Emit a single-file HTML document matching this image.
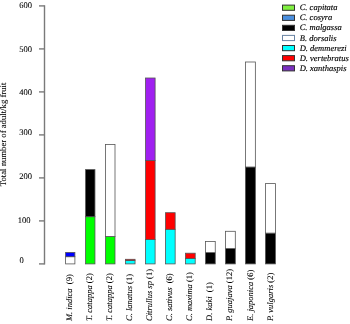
<!DOCTYPE html>
<html><head><meta charset="utf-8"><style>
html,body{margin:0;padding:0;background:#fff;}
svg{display:block;will-change:transform;}
.t{text-rendering:geometricPrecision;font-family:"Liberation Serif",serif;font-size:8.5px;fill:#000;stroke:#000;stroke-width:0.08px;}
.lg{stroke-width:0.15px;}
</style></head><body>
<svg width="350" height="324" viewBox="0 0 350 324">
<line x1="44.5" y1="5.20" x2="44.5" y2="264.59999999999997" stroke="#7a7a7a" stroke-width="1.4"/>
<line x1="39" y1="263.90" x2="44.5" y2="263.90" stroke="#7a7a7a" stroke-width="1.4"/>
<text x="21.7" y="263.38" text-anchor="middle" class="t">0</text>
<line x1="39" y1="220.90" x2="44.5" y2="220.90" stroke="#7a7a7a" stroke-width="1.4"/>
<text x="24.05" y="222.73" text-anchor="middle" class="t">100</text>
<line x1="39" y1="177.90" x2="44.5" y2="177.90" stroke="#7a7a7a" stroke-width="1.4"/>
<text x="25.5" y="178.93" text-anchor="middle" class="t">200</text>
<line x1="39" y1="134.90" x2="44.5" y2="134.90" stroke="#7a7a7a" stroke-width="1.4"/>
<text x="25.5" y="135.33" text-anchor="middle" class="t">300</text>
<line x1="39" y1="91.90" x2="44.5" y2="91.90" stroke="#7a7a7a" stroke-width="1.4"/>
<text x="25.5" y="94.63" text-anchor="middle" class="t">400</text>
<line x1="39" y1="48.90" x2="44.5" y2="48.90" stroke="#7a7a7a" stroke-width="1.4"/>
<text x="25.65" y="51.53" text-anchor="middle" class="t">500</text>
<line x1="39" y1="5.90" x2="44.5" y2="5.90" stroke="#7a7a7a" stroke-width="1.4"/>
<text x="25.5" y="7.63" text-anchor="middle" class="t">600</text>
<text transform="translate(6.3,134.45) rotate(-90)" text-anchor="middle" class="t" style="font-size:8.7px">Total number of adult/kg fruit</text>
<rect x="65.60" y="256.70" width="9.30" height="7.20" fill="#ffffff" stroke="#555" stroke-width="0.8"/>
<rect x="65.60" y="252.40" width="9.30" height="4.30" fill="#0000ff" stroke="#555" stroke-width="0.8"/>
<rect x="85.58" y="216.70" width="9.37" height="47.20" fill="#00ff00" stroke="#555" stroke-width="0.8"/>
<rect x="85.58" y="169.60" width="9.37" height="47.10" fill="#000000" stroke="#555" stroke-width="0.8"/>
<rect x="105.56" y="236.40" width="9.44" height="27.50" fill="#00ff00" stroke="#555" stroke-width="0.8"/>
<rect x="105.56" y="144.50" width="9.44" height="91.90" fill="#ffffff" stroke="#555" stroke-width="0.8"/>
<rect x="125.54" y="260.60" width="9.51" height="3.30" fill="#00ffff" stroke="#555" stroke-width="0.8"/>
<rect x="125.54" y="259.30" width="9.51" height="1.30" fill="#ff0000" stroke="#555" stroke-width="0.8"/>
<rect x="145.52" y="239.60" width="9.58" height="24.30" fill="#00ffff" stroke="#555" stroke-width="0.8"/>
<rect x="145.52" y="160.50" width="9.58" height="79.10" fill="#ff0000" stroke="#555" stroke-width="0.8"/>
<rect x="145.52" y="78.00" width="9.58" height="82.50" fill="#a020f0" stroke="#555" stroke-width="0.8"/>
<rect x="165.50" y="229.30" width="9.65" height="34.60" fill="#00ffff" stroke="#555" stroke-width="0.8"/>
<rect x="165.50" y="212.70" width="9.65" height="16.60" fill="#ff0000" stroke="#555" stroke-width="0.8"/>
<rect x="185.48" y="258.60" width="9.72" height="5.30" fill="#00ffff" stroke="#555" stroke-width="0.8"/>
<rect x="185.48" y="253.20" width="9.72" height="5.40" fill="#ff0000" stroke="#555" stroke-width="0.8"/>
<rect x="205.46" y="252.60" width="9.79" height="11.30" fill="#000000" stroke="#555" stroke-width="0.8"/>
<rect x="205.46" y="241.40" width="9.79" height="11.20" fill="#ffffff" stroke="#555" stroke-width="0.8"/>
<rect x="225.44" y="248.50" width="9.86" height="15.40" fill="#000000" stroke="#555" stroke-width="0.8"/>
<rect x="225.44" y="231.30" width="9.86" height="17.20" fill="#ffffff" stroke="#555" stroke-width="0.8"/>
<rect x="245.42" y="167.00" width="9.93" height="96.90" fill="#000000" stroke="#555" stroke-width="0.8"/>
<rect x="245.42" y="62.00" width="9.93" height="105.00" fill="#ffffff" stroke="#555" stroke-width="0.8"/>
<rect x="265.40" y="233.10" width="10.00" height="30.80" fill="#000000" stroke="#555" stroke-width="0.8"/>
<rect x="265.40" y="183.60" width="10.00" height="49.50" fill="#ffffff" stroke="#555" stroke-width="0.8"/>
<text transform="translate(71.90,321) rotate(-90)" class="t" xml:space="preserve"><tspan font-style="italic">M. indica</tspan>  (9)</text>
<text transform="translate(91.97,321) rotate(-90)" class="t" xml:space="preserve"><tspan font-style="italic">T. catappa</tspan> (2)</text>
<text transform="translate(112.04,321) rotate(-90)" class="t" xml:space="preserve"><tspan font-style="italic">T. catappa</tspan> (2)</text>
<text transform="translate(132.11,321) rotate(-90)" class="t" xml:space="preserve"><tspan font-style="italic">C. lanatus</tspan> (1)</text>
<text transform="translate(152.18,321) rotate(-90)" class="t" xml:space="preserve"><tspan font-style="italic">Citrullus sp</tspan> (1)</text>
<text transform="translate(172.25,321) rotate(-90)" class="t" xml:space="preserve"><tspan font-style="italic">C. sativus</tspan>  (6)</text>
<text transform="translate(192.32,321) rotate(-90)" class="t" xml:space="preserve"><tspan font-style="italic">C. maxima</tspan> (1)</text>
<text transform="translate(212.39,321) rotate(-90)" class="t" xml:space="preserve"><tspan font-style="italic">D. kaki</tspan>  (1)</text>
<text transform="translate(232.46,321) rotate(-90)" class="t" xml:space="preserve"><tspan font-style="italic">P. guajava</tspan> (12)</text>
<text transform="translate(252.53,321) rotate(-90)" class="t" xml:space="preserve"><tspan font-style="italic">E. japonica</tspan> (6)</text>
<text transform="translate(272.60,321) rotate(-90)" class="t" xml:space="preserve"><tspan font-style="italic">P. vulgaris</tspan> (2)</text>
<rect x="282.5" y="5.10" width="12" height="5.2" fill="#80f040" stroke="#333" stroke-width="1"/>
<text x="299.7" y="9.60" class="t lg" font-style="italic">C. capitata</text>
<rect x="282.5" y="15.20" width="12" height="5.2" fill="#4a8fdf" stroke="#333" stroke-width="1"/>
<text x="299.7" y="19.70" class="t lg" font-style="italic">C. cosyra</text>
<rect x="282.5" y="25.30" width="12" height="5.2" fill="#000000" stroke="#333" stroke-width="1"/>
<text x="299.7" y="29.80" class="t lg" font-style="italic">C. malgassa</text>
<rect x="282.5" y="35.40" width="12" height="5.2" fill="#ffffff" stroke="#6a84a4" stroke-width="1"/>
<text x="299.7" y="40.50" class="t lg" font-style="italic">B. dorsalis</text>
<rect x="282.5" y="45.50" width="12" height="5.2" fill="#00ffff" stroke="#333" stroke-width="1"/>
<text x="299.7" y="50.80" class="t lg" font-style="italic">D. demmerezi</text>
<rect x="282.5" y="55.60" width="12" height="5.2" fill="#ff0000" stroke="#333" stroke-width="1"/>
<text x="299.7" y="61.30" class="t lg" font-style="italic">D. vertebratus</text>
<rect x="282.5" y="65.70" width="12" height="5.2" fill="#7a2fc0" stroke="#333" stroke-width="1"/>
<text x="299.7" y="71.40" class="t lg" font-style="italic">D. xanthaspis</text>
</svg>
</body></html>
